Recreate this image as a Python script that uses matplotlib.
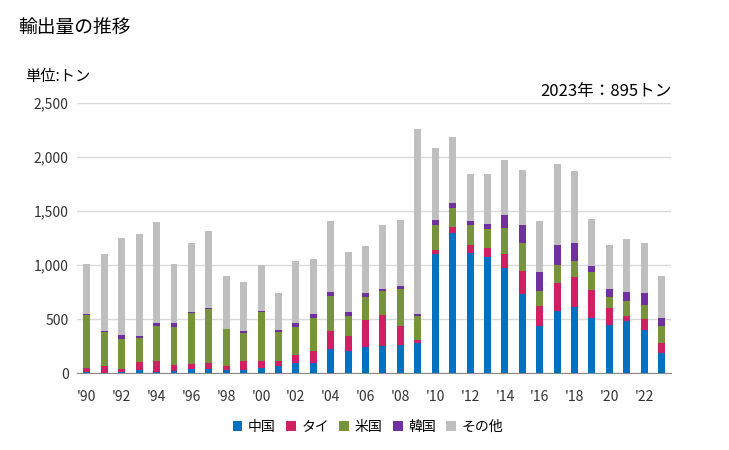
import numpy as np
import matplotlib.pyplot as plt

plt.rcParams['font.family'] = ['Noto Sans CJK JP', 'DejaVu Sans']

years = list(range(1990, 2024))
china = [12, 2, 12, 31, 12, 22, 40, 40, 31, 31, 49, 68, 96, 96, 225, 207, 238, 253, 259, 278,
         1105, 1296, 1111, 1074, 975, 734, 438, 574, 611, 509, 444, 481, 401, 185]
thai = [37, 66, 28, 74, 102, 55, 46, 56, 37, 83, 65, 46, 74, 111, 167, 139, 256, 287, 179, 31,
        37, 59, 74, 83, 130, 210, 185, 259, 278, 259, 158, 47, 99, 93]
usa = [488, 315, 278, 222, 324, 352, 473, 500, 342, 259, 454, 269, 259, 305, 324, 185, 213, 222, 340, 222,
       228, 173, 185, 176, 237, 260, 136, 167, 148, 167, 102, 139, 130, 157]
korea = [9, 9, 37, 19, 28, 37, 9, 9, 0, 19, 9, 18, 37, 37, 37, 37, 37, 19, 31, 18,
         46, 46, 37, 46, 121, 166, 176, 185, 167, 56, 74, 83, 111, 74]
other = [463, 710, 895, 941, 932, 543, 636, 710, 488, 450, 423, 340, 571, 506, 654, 552, 435, 589, 607, 1710,
         667, 611, 435, 463, 509, 509, 472, 750, 666, 435, 407, 491, 463, 386]

series = [('中国', china, '#0070C0'), ('タイ', thai, '#D01F62'), ('米国', usa, '#77933C'),
          ('韓国', korea, '#7030A0'), ('その他', other, '#BFBFBF')]

fig = plt.figure(figsize=(7.29, 4.5), dpi=100)
ax = fig.add_axes([0.1056, 0.171, 0.8144, 0.6])

x = np.arange(len(years))
bottom = np.zeros(len(years))
for name, vals, col in series:
    ax.bar(x, vals, 0.4, bottom=bottom, color=col, label=name, zorder=3)
    bottom += np.array(vals)

ax.set_ylim(0, 2500)
ax.set_xlim(-0.57, len(years) - 0.48)
ax.set_yticks(range(0, 2501, 500))
ax.set_yticklabels([f'{v:,}' for v in range(0, 2501, 500)], fontsize=10, color='#333333')
ax.set_xticks(x[::2])
ax.set_xticklabels([f"'{y % 100:02d}" for y in years[::2]], fontsize=10, color='#333333')
ax.tick_params(axis='y', length=0, pad=6)
ax.tick_params(axis='x', length=0, pad=12)
ax.grid(axis='y', color='#D9D9D9', linewidth=1, zorder=0)
for s in ['top', 'right', 'left']:
    ax.spines[s].set_visible(False)
ax.spines['bottom'].set_color('#898989')

fig.text(0.025, 0.938, '輸出量の推移', fontsize=13.5, va='center')
fig.text(0.034, 0.829, '単位:トン', fontsize=11, va='center')
fig.text(0.922, 0.796, '2023年：895トン', fontsize=12, va='center', ha='right')

ax.legend(loc='center', bbox_to_anchor=(0.49, -0.2), ncol=5, frameon=False,
          fontsize=10, handlelength=0.7, handleheight=0.7, handletextpad=0.4, columnspacing=0.75)

fig.savefig('out.png', dpi=100)
